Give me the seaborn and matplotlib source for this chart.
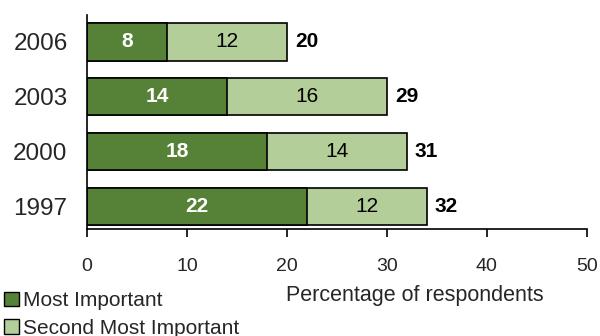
import matplotlib
matplotlib.use("Agg")
import matplotlib.pyplot as plt
from matplotlib.patches import Patch
import seaborn as sns
import pandas as pd

years = ["2006", "2003", "2000", "1997"]
most_important = [8, 14, 18, 22]
second_most = [12, 16, 14, 12]
totals = [20, 29, 31, 32]
x_ticks = [0, 10, 20, 30, 40, 50]

dark_green = "#568237"
light_green = "#B4CE9A"

sns.set_style("white")
plt.rcParams["font.family"] = ["Liberation Sans", "DejaVu Sans"]

df = pd.DataFrame({
    "year": years,
    "most": most_important,
    "second": second_most,
})
df["stack"] = df["most"] + df["second"]

fig = plt.figure(figsize=(6.0, 3.36), dpi=100)
ax = fig.add_axes([0.145, 0.318, 0.833, 0.637])

# full stack first (light), then the first segment on top (dark)
sns.barplot(data=df, x="stack", y="year", order=years, color=light_green,
            saturation=1, width=0.68, edgecolor="black", linewidth=1.2, ax=ax)
sns.barplot(data=df, x="most", y="year", order=years, color=dark_green,
            saturation=1, width=0.68, edgecolor="black", linewidth=1.2, ax=ax)

for i, (m, s, t) in enumerate(zip(most_important, second_most, totals)):
    ax.text(m / 2, i, str(m), ha="center", va="center", color="white",
            fontsize=15, fontweight="bold")
    ax.text(m + s / 2, i, str(s), ha="center", va="center", color="black",
            fontsize=15)
    ax.text(m + s + 0.8, i, str(t), ha="left", va="center", color="black",
            fontsize=15, fontweight="bold")

ax.set_xlim(0, 50)
ax.set_ylim(3.42, -0.49)
ax.set_xticks(x_ticks)
ax.set_xticklabels([str(v) for v in x_ticks], fontsize=14)
ax.tick_params(axis="x", bottom=True, direction="out", length=6, width=1.2,
               color="black", pad=15)
ax.tick_params(axis="y", left=False, length=0, labelsize=17.5, pad=14)
ax.set_xlabel("")
ax.set_ylabel("")
for side in ["top", "right"]:
    ax.spines[side].set_visible(False)
for side in ["left", "bottom"]:
    ax.spines[side].set_color("black")
    ax.spines[side].set_linewidth(1.2)

fig.text(0.692, 0.121, "Percentage of respondents", ha="center", va="center",
         fontsize=15.5)

handles = [
    Patch(facecolor=dark_green, edgecolor="black", linewidth=1, label="Most Important"),
    Patch(facecolor=light_green, edgecolor="black", linewidth=1, label="Second Most Important"),
]
fig.legend(handles=handles, loc="upper left", bbox_to_anchor=(0.0, 1 - 287 / 336),
           frameon=False, fontsize=15, handlelength=0.7, handleheight=0.7,
           handletextpad=0.2, labelspacing=0.4, borderpad=0.2,
           borderaxespad=0.0)

fig.savefig("out.png", dpi=100)
